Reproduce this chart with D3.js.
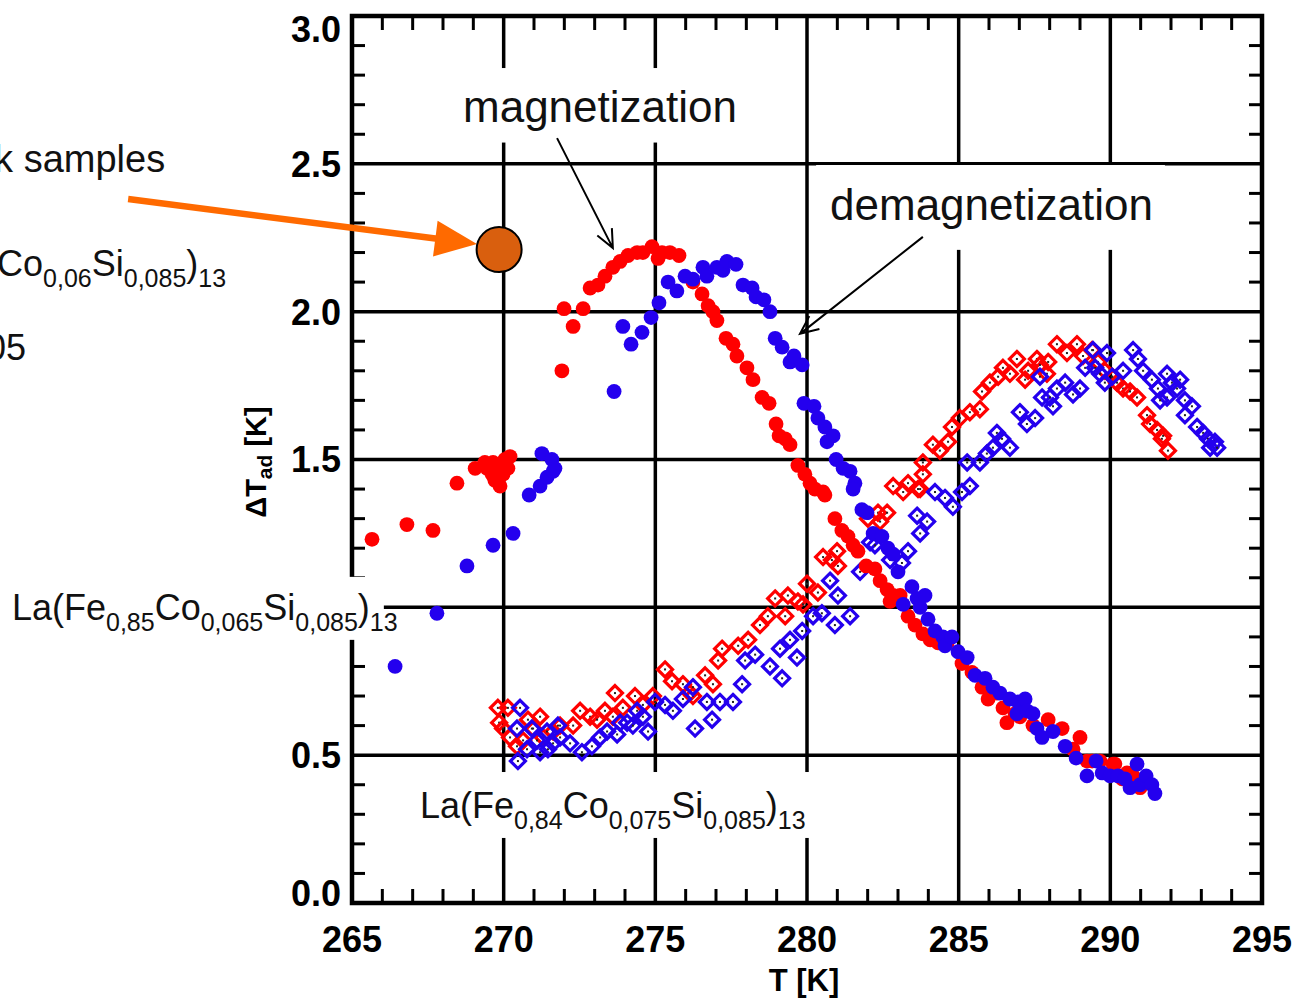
<!DOCTYPE html>
<html>
<head>
<meta charset="utf-8">
<script src="https://cdn.jsdelivr.net/npm/d3@7"></script>
<style>
  body { margin: 0; background: #fff; }
  svg { display: block; }
</style>
</head>
<body>
<svg id="chart" width="1297" height="999"></svg>
<script>
// ---- axis ticks ----
const xTicks = [265, 270, 275, 280, 285, 290, 295];
const yTicks = [0.0, 0.5, 1.0, 1.5, 2.0, 2.5, 3.0];
// the 1.0 label sits under the sample caption, so it is not printed
const yTickLabels = [0.0, 0.5, 1.5, 2.0, 2.5, 3.0];

// ---- adiabatic temperature change, La(Fe0,85Co0,065Si0,085)13 (filled circles) ----
const magnetizationA = [
  [265.66,1.23],[266.81,1.28],[267.67,1.26],[268.46,1.42],[269.06,1.47],
  [269.38,1.49],[269.45,1.47],[269.62,1.45],[269.65,1.49],[269.71,1.43],[269.81,1.46],[269.88,1.41],
  [269.98,1.45],[270.04,1.50],[270.14,1.47],[270.21,1.51],
  [271.92,1.80],[272.29,1.95],[271.99,2.01],[272.62,2.01],[272.85,2.08],[273.11,2.09],[273.34,2.12],
  [273.60,2.15],[273.84,2.17],[274.10,2.19],[274.40,2.20],[274.59,2.20],[274.89,2.22],[275.09,2.18],
  [275.22,2.20],[275.48,2.20],[275.78,2.19],
  [276.24,2.10],[276.54,2.06],[276.74,2.02],[276.90,2.00],[277.03,1.97],[277.33,1.91],[277.56,1.89],
  [277.69,1.85],[278.02,1.81],[278.22,1.77],[278.52,1.71],[278.75,1.69],[278.98,1.62],[279.08,1.58],
  [279.28,1.57],[279.44,1.55],[279.70,1.48],[279.93,1.45],[280.10,1.42],[280.26,1.40],[280.53,1.39],
  [280.59,1.38],[280.92,1.30],[281.15,1.26],[281.35,1.24],[281.52,1.21],[281.68,1.19],[281.95,1.14],
  [282.24,1.13],[282.41,1.09],[282.64,1.06],[282.74,1.02],[282.84,1.04],[283.07,1.04],[283.33,0.97],
  [283.56,0.94],[283.82,0.91],[284.06,0.89],[284.32,0.88],[284.62,0.88],
  [285.11,0.81],[285.44,0.78],[285.77,0.73],[285.97,0.69],[286.26,0.71],[286.46,0.66],[286.59,0.61],
  [286.86,0.64],[287.02,0.63],[287.45,0.60],[287.95,0.62],[288.41,0.59],[288.77,0.52],[289.00,0.56],
  [289.23,0.48],[289.40,0.48],[289.66,0.48],[290.09,0.47],[290.15,0.47],[290.39,0.42],[290.55,0.44],
  [290.75,0.43],[290.98,0.39]
];
const demagnetizationA = [
  [266.42,0.80],[267.80,0.98],[268.79,1.14],[269.65,1.21],[270.31,1.25],[270.84,1.38],[271.20,1.41],
  [271.43,1.44],[271.63,1.46],[271.26,1.52],[271.59,1.50],[271.69,1.47],
  [273.64,1.73],[274.20,1.89],[273.93,1.95],[274.56,1.93],[274.86,1.98],[275.12,2.03],[275.42,2.10],
  [275.71,2.07],[275.98,2.12],[276.24,2.11],[276.57,2.15],[276.70,2.12],[277.03,2.15],[277.23,2.14],
  [277.36,2.17],[277.66,2.16],
  [277.89,2.09],[278.19,2.08],[278.32,2.05],[278.58,2.04],[278.78,2.00],[278.95,1.91],[279.18,1.88],
  [279.44,1.83],[279.57,1.85],[279.84,1.82],
  [279.90,1.69],[280.23,1.68],[280.36,1.64],[280.59,1.61],[280.86,1.58],[280.66,1.56],[280.96,1.50],
  [281.19,1.47],[281.42,1.46],[281.58,1.42],[281.52,1.40],
  [281.81,1.33],[281.98,1.32],[282.18,1.25],[282.47,1.24],[282.67,1.20],[282.84,1.18],[283.00,1.12],
  [283.17,1.01],[283.46,1.07],[283.63,1.03],[283.73,1.00],[283.89,1.04],[283.99,0.96],[284.22,0.92],
  [284.48,0.90],[284.55,0.87],[284.78,0.90],[284.98,0.85],
  [285.28,0.83],[285.54,0.77],[285.87,0.76],[286.13,0.73],[286.36,0.71],[286.69,0.69],[286.92,0.64],
  [286.96,0.68],[287.19,0.69],[287.25,0.65],[287.45,0.64],[287.58,0.59],[287.75,0.56],[288.11,0.58],
  [288.51,0.53],[288.87,0.49],
  [289.23,0.43],[289.53,0.48],[289.73,0.44],[289.99,0.43],[290.25,0.43],[290.48,0.42],[290.65,0.39],
  [290.88,0.47],[290.98,0.40],[291.18,0.43],[291.37,0.40],[291.47,0.37]
];

// ---- La(Fe0,84Co0,075Si0,085)13 (open diamonds) ----
const magnetizationB = [
  [269.81,0.66],[270.14,0.66],[269.85,0.61],[269.98,0.59],[270.21,0.56],[270.44,0.53],[270.64,0.55],
  [270.80,0.62],[271.20,0.63],[270.97,0.59],[271.30,0.56],[271.63,0.58],[271.86,0.60],[272.29,0.60],
  [272.52,0.65],[272.85,0.63],[273.08,0.62],[273.34,0.65],[273.67,0.71],[273.60,0.63],[273.93,0.66],
  [274.33,0.70],[274.59,0.67],[274.92,0.70],[275.32,0.79],[275.55,0.75],[275.91,0.74],[276.14,0.71],
  [276.24,0.70],[276.64,0.77],[276.90,0.74],[277.07,0.82],[277.20,0.86],[277.73,0.87],[278.06,0.89],
  [278.45,0.94],[278.71,0.97],[278.95,1.03],[279.37,1.04],[279.28,0.97],[279.70,1.02],[279.87,1.01],
  [280.00,1.08],[280.36,1.05],[280.53,1.17],[280.82,1.16],[281.02,1.14],[280.99,1.19],
  [282.01,1.30],[282.34,1.32],[282.64,1.32],[282.41,1.29],[282.84,1.41],[283.17,1.39],[283.33,1.42],
  [283.66,1.40],[283.73,1.40],[283.82,1.45],[283.82,1.49],[284.15,1.55],[284.38,1.53],[284.65,1.56],
  [284.78,1.61],[285.04,1.64],[285.37,1.66],[285.70,1.67],[285.77,1.73],[286.03,1.76],[286.30,1.78],
  [286.46,1.81],[286.69,1.79],[286.92,1.84],[287.19,1.77],[287.29,1.80],[287.58,1.84],[287.68,1.82],
  [287.91,1.79],[287.95,1.83],[288.24,1.89],[288.57,1.86],[288.90,1.89],[289.10,1.85],[289.40,1.87],
  [289.59,1.83],[289.82,1.80],[290.06,1.78],[290.22,1.76],[290.42,1.74],[290.65,1.73],[290.88,1.71],
  [291.21,1.65],[291.31,1.62],[291.54,1.60],[291.70,1.57],[291.74,1.58],[291.90,1.53]
];
const demagnetizationB = [
  [270.54,0.66],[270.47,0.48],[270.44,0.59],[270.77,0.52],[270.93,0.59],[271.10,0.55],[271.20,0.51],
  [271.43,0.58],[271.46,0.52],[271.63,0.54],[271.79,0.60],[271.86,0.56],[272.19,0.54],[272.58,0.51],
  [272.91,0.53],[273.18,0.56],[273.41,0.58],[273.74,0.57],[273.84,0.61],[274.07,0.61],[274.26,0.60],
  [274.40,0.65],[274.59,0.63],[274.76,0.58],[274.99,0.68],[275.32,0.67],[275.58,0.65],[275.91,0.69],
  [276.24,0.73],[276.31,0.59],[276.70,0.68],[276.87,0.62],[277.13,0.68],[277.56,0.68],[277.86,0.74],
  [277.96,0.82],[278.29,0.84],[278.78,0.80],[279.11,0.86],[279.18,0.76],[279.67,0.83],[279.44,0.89],
  [279.84,0.92],[280.20,0.97],[280.49,0.98],[280.92,0.94],[281.42,0.97],[280.76,1.09],[281.02,1.04],
  [281.75,1.12],[282.08,1.22],[282.24,1.21],[282.74,1.16],[283.13,1.15],[283.33,1.19],[283.63,1.31],
  [283.96,1.29],[283.73,1.25],[284.22,1.39],[284.55,1.37],[284.81,1.34],[285.11,1.39],[285.37,1.41],
  [285.28,1.49],[285.70,1.49],[285.93,1.52],[286.13,1.54],[286.26,1.59],[286.43,1.57],[286.69,1.54],
  [287.02,1.66],[287.25,1.62],[287.52,1.64],[287.75,1.71],[288.01,1.71],[288.11,1.68],[288.24,1.74],
  [288.51,1.76],[288.77,1.72],[289.00,1.74],[287.68,1.78],[289.17,1.81],[289.43,1.87],[289.50,1.81],
  [289.66,1.79],[289.82,1.76],[289.89,1.86],[290.06,1.78],[290.42,1.80],[290.75,1.87],[290.91,1.84],
  [291.08,1.80],[291.37,1.77],[291.57,1.74],[291.87,1.79],[292.03,1.76],[292.20,1.74],[291.87,1.71],
  [291.64,1.70],[292.30,1.77],[292.46,1.70],[292.69,1.68],[292.46,1.65],[292.86,1.61],[293.06,1.59],
  [293.22,1.57],[293.45,1.56],[293.29,1.54],[293.52,1.54]
];

// ---- bulk sample reference point ----
const bulkSample = [[269.85, 2.21]];

// ---- layout ----
const svg = d3.select("#chart");
const x = d3.scaleLinear().domain([265, 295]).range([352, 1262]);
const y = d3.scaleLinear().domain([0, 3]).range([903, 16]);
const RED = "#ff0000", BLUE = "#2400ee", INK = "#000";
const tickFont = "'Liberation Sans', Arial, sans-serif";

// grid lines at the major ticks
const grid = svg.append("g").attr("stroke", INK).attr("stroke-width", 3.5);
grid.selectAll("line.gx").data(xTicks.slice(1, -1)).join("line")
  .attr("x1", d => x(d)).attr("x2", d => x(d))
  .attr("y1", y(0)).attr("y2", y(3));
grid.selectAll("line.gy").data(yTicks.slice(1, -1)).join("line")
  .attr("y1", d => y(d)).attr("y2", d => y(d))
  .attr("x1", x(265)).attr("x2", x(295));

// minor ticks on all four sides
const minorX = d3.range(266, 295, 1).filter(v => v % 5 !== 0);
const minorY = d3.range(1, 30).map(v => v / 10).filter(v => Math.round(v * 10) % 5 !== 0);
const ticks = svg.append("g").attr("stroke", INK).attr("stroke-width", 3);
ticks.selectAll("line.bt").data(minorX).join("line")
  .attr("x1", d => x(d)).attr("x2", d => x(d)).attr("y1", y(0)).attr("y2", y(0) - 14);
ticks.selectAll("line.tt").data(minorX).join("line")
  .attr("x1", d => x(d)).attr("x2", d => x(d)).attr("y1", y(3)).attr("y2", y(3) + 14);
ticks.selectAll("line.lt").data(minorY).join("line")
  .attr("y1", d => y(d)).attr("y2", d => y(d)).attr("x1", x(265)).attr("x2", x(265) + 13);
ticks.selectAll("line.rt").data(minorY).join("line")
  .attr("y1", d => y(d)).attr("y2", d => y(d)).attr("x1", x(295)).attr("x2", x(295) - 13);

// frame
svg.append("rect")
  .attr("x", x(265)).attr("y", y(3))
  .attr("width", x(295) - x(265)).attr("height", y(0) - y(3))
  .attr("fill", "none").attr("stroke", INK).attr("stroke-width", 4.5);

// tick labels
svg.append("g").selectAll("text").data(xTicks).join("text")
  .attr("x", d => x(d)).attr("y", 952)
  .attr("text-anchor", "middle")
  .attr("font-family", tickFont).attr("font-weight", "bold").attr("font-size", 36)
  .text(d => d);
svg.append("g").selectAll("text").data(yTickLabels).join("text")
  .attr("x", 341).attr("y", d => Math.max(29, Math.min(893, y(d))))
  .attr("dy", "0.36em")
  .attr("text-anchor", "end")
  .attr("font-family", tickFont).attr("font-weight", "bold").attr("font-size", 36)
  .text(d => d.toFixed(1));

// axis titles
svg.append("text")
  .attr("x", 804).attr("y", 991)
  .attr("text-anchor", "middle")
  .attr("font-family", tickFont).attr("font-weight", "bold").attr("font-size", 31)
  .text("T [K]");
const yTitle = svg.append("text")
  .attr("transform", "translate(266,462) rotate(-90)")
  .attr("text-anchor", "middle")
  .attr("font-family", tickFont).attr("font-weight", "bold").attr("font-size", 29);
yTitle.append("tspan").text("ΔT");
yTitle.append("tspan").attr("font-size", 21).attr("dy", 6).text("ad");
yTitle.append("tspan").attr("dy", -6).text("  [K]");

// data marks
const diamond = "M0,-7.5L7.5,0L0,7.5L-7.5,0Z";
function diamonds(data, color) {
  const g = svg.append("g");
  const s = g.selectAll("g").data(data).join("g")
    .attr("transform", d => `translate(${x(d[0])},${y(d[1])})`);
  s.append("path").attr("d", diamond).attr("fill", "none")
    .attr("stroke", color).attr("stroke-width", 3.2);
  s.append("rect").attr("x", -1).attr("y", -1).attr("width", 2).attr("height", 2)
    .attr("fill", "#222");
}
function dots(data, color) {
  svg.append("g").selectAll("circle").data(data).join("circle")
    .attr("cx", d => x(d[0])).attr("cy", d => y(d[1])).attr("r", 7.4)
    .attr("fill", color);
}
diamonds(magnetizationB, RED);
diamonds(demagnetizationB, BLUE);
dots(magnetizationA, RED);
dots(demagnetizationA, BLUE);

// white label panels
const labelFont = "'Liberation Sans', Arial, sans-serif";
function panel(t0, t1, v0, v1) {
  svg.append("rect")
    .attr("x", x(t0)).attr("y", y(v1))
    .attr("width", x(t1) - x(t0)).attr("height", y(v0) - y(v1))
    .attr("fill", "#fff");
}
panel(268.40, 278.12, 2.572, 2.824);   // magnetization
panel(280.30, 291.80, 2.209, 2.496);   // demagnetization
panel(252.00, 266.05, 0.890, 1.103);   // sample Co0,065
panel(266.98, 280.26, 0.220, 0.443);   // sample Co0,075

function formula(parts, xPos, yPos, anchor) {
  const t = svg.append("text")
    .attr("x", xPos).attr("y", yPos)
    .attr("text-anchor", anchor)
    .attr("font-family", labelFont).attr("font-size", 36).attr("fill", "#111");
  let shifted = false;
  parts.forEach(([s, sub]) => {
    const ts = t.append("tspan").text(s);
    if (sub && !shifted) { ts.attr("dy", 11).attr("font-size", 25); shifted = true; }
    else if (sub) { ts.attr("font-size", 25); }
    else if (shifted) { ts.attr("dy", -11); shifted = false; }
  });
  return t;
}
formula([["La(Fe", 0], ["0,85", 1], ["Co", 0], ["0,065", 1], ["Si", 0], ["0,085", 1], [")", 0], ["13", 1]],
  x(253.79), y(0.957), "start");
formula([["La(Fe", 0], ["0,84", 1], ["Co", 0], ["0,075", 1], ["Si", 0], ["0,085", 1], [")", 0], ["13", 1]],
  x(267.24), y(0.287), "start");
formula([["La(Fe", 0], ["0,855", 1], ["Co", 0], ["0,06", 1], ["Si", 0], ["0,085", 1], [")", 0], ["13", 1]],
  x(260.85), y(2.121), "end");

svg.append("text")
  .attr("x", x(258.84)).attr("y", y(2.472)).attr("text-anchor", "end")
  .attr("font-family", labelFont).attr("font-size", 38).attr("fill", "#111")
  .text("bulk samples");
svg.append("text")
  .attr("x", x(254.25)).attr("y", y(1.837)).attr("text-anchor", "end")
  .attr("font-family", labelFont).attr("font-size", 36).attr("fill", "#111")
  .text("x = 0,05");

svg.append("text")
  .attr("x", x(268.66)).attr("y", y(2.641))
  .attr("font-family", labelFont).attr("font-size", 44).attr("fill", "#111")
  .text("magnetization");
svg.append("text")
  .attr("x", x(280.76)).attr("y", y(2.310))
  .attr("font-family", labelFont).attr("font-size", 44).attr("fill", "#111")
  .text("demagnetization");

// thin pointer arrows with open heads
function pointer(t0, v0, t1, v1) {
  const x0 = x(t0), y0 = y(v0), x1 = x(t1), y1 = y(v1);
  const a = Math.atan2(y1 - y0, x1 - x0), L = 20, w = 0.42;
  const p = d3.path();
  p.moveTo(x0, y0); p.lineTo(x1, y1);
  p.moveTo(x1 - L * Math.cos(a - w), y1 - L * Math.sin(a - w));
  p.lineTo(x1, y1);
  p.lineTo(x1 - L * Math.cos(a + w), y1 - L * Math.sin(a + w));
  svg.append("path").attr("d", p.toString())
    .attr("fill", "none").attr("stroke", INK).attr("stroke-width", 2);
}
pointer(271.76, 2.587, 273.60, 2.215);
pointer(283.82, 2.253, 279.77, 1.925);

// bulk sample: orange arrow and marker
(function () {
  const x0 = x(257.62), y0 = y(2.381), x1 = x(269.12), y1 = y(2.229);
  const a = Math.atan2(y1 - y0, x1 - x0), L = 42, H = 18;
  const bx = x1 - L * Math.cos(a), by = y1 - L * Math.sin(a);
  svg.append("line")
    .attr("x1", x0).attr("y1", y0).attr("x2", bx + 2 * Math.cos(a)).attr("y2", by + 2 * Math.sin(a))
    .attr("stroke", "#ff6a00").attr("stroke-width", 6.5);
  svg.append("path")
    .attr("d", `M${x1},${y1}L${bx - H * Math.sin(a)},${by + H * Math.cos(a)}L${bx + H * Math.sin(a)},${by - H * Math.cos(a)}Z`)
    .attr("fill", "#ff6a00");
})();
svg.append("g").selectAll("circle").data(bulkSample).join("circle")
  .attr("cx", d => x(d[0])).attr("cy", d => y(d[1])).attr("r", 22.5)
  .attr("fill", "#d95f0e").attr("stroke", INK).attr("stroke-width", 2);
</script>
</body>
</html>
